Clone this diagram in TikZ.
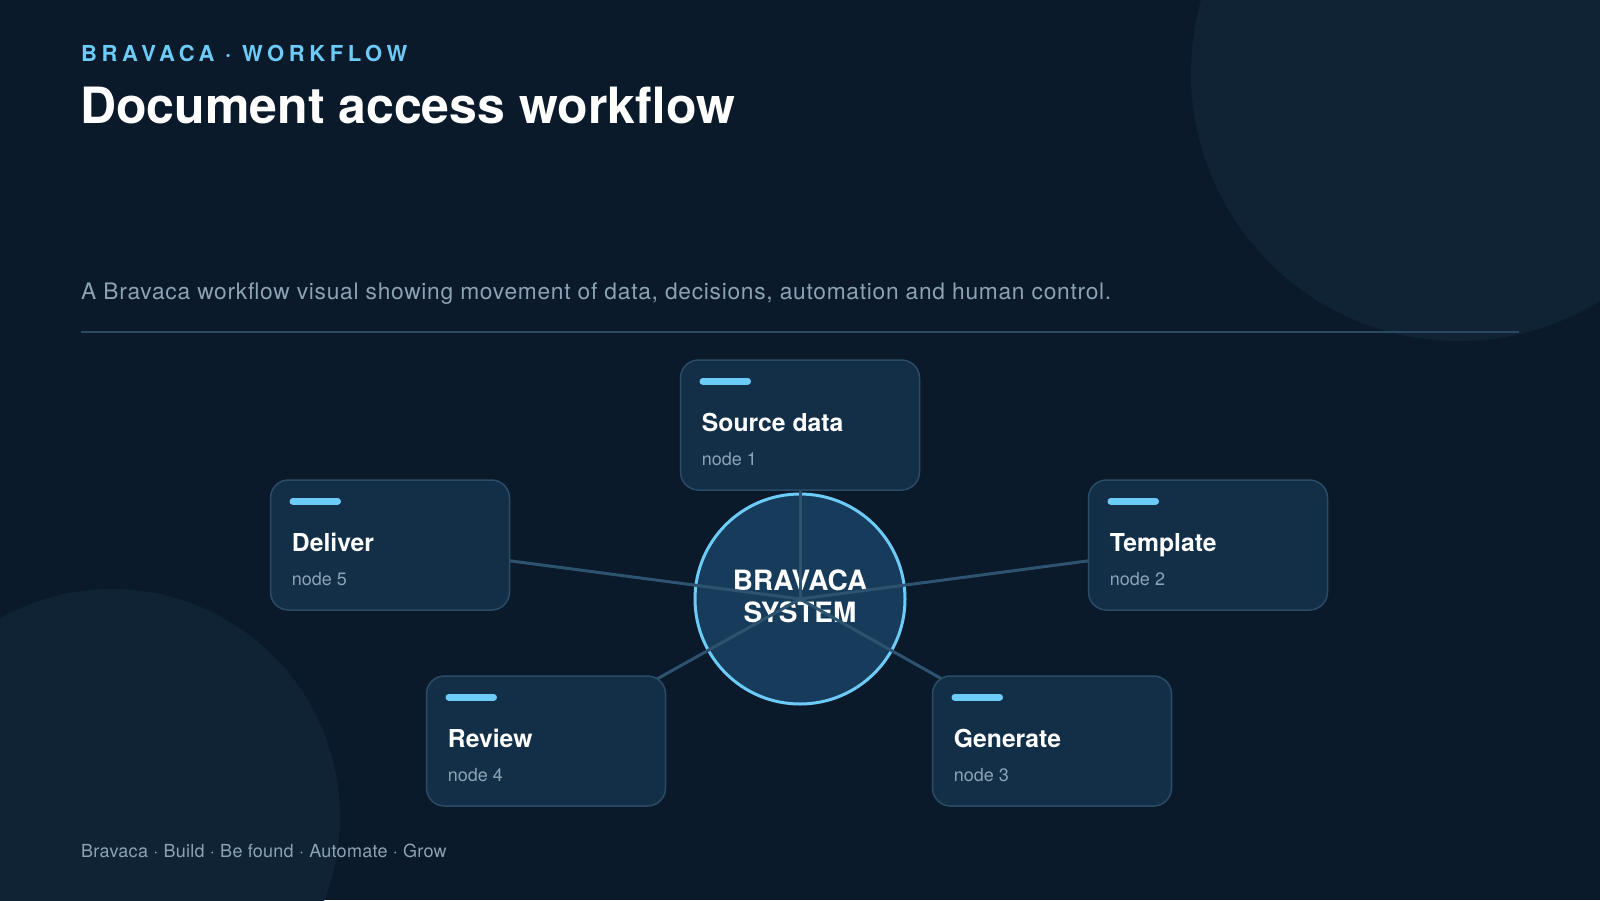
\documentclass[tikz,border=0pt]{standalone}
\usepackage{fontspec}
\setmainfont{TeX Gyre Heros}
\newfontfamily\eyefont[LetterSpace=21]{TeX Gyre Heros}
\newfontfamily\subfont[LetterSpace=3.2]{TeX Gyre Heros}
\newfontfamily\footfont[LetterSpace=1.5]{TeX Gyre Heros}
\definecolor{bgc}{HTML}{0A1A2A}
\definecolor{decoc}{HTML}{0F2334}
\definecolor{accentc}{HTML}{6CCBF7}
\definecolor{boxfill}{HTML}{132F48}
\definecolor{boxline}{HTML}{2B4C66}
\definecolor{hubfill}{HTML}{173B5A}
\definecolor{edgec}{HTML}{2E5370}
\definecolor{mutedc}{HTML}{8CA3B6}
\definecolor{divc}{HTML}{2A4A62}
\pgfdeclarelayer{front}
\pgfsetlayers{main,front}
\tikzset{
  wbox/.style={draw=boxline, line width=1.5pt, fill=boxfill, rounded corners=18pt,
    minimum width=239pt, minimum height=130pt, inner sep=0pt},
  bar/.style={line width=6.5pt, line cap=round, draw=accentc},
  btitle/.style={anchor=base west, inner sep=0pt, text=white, font=\fontsize{24.7}{28}\selectfont\bfseries},
  bsub/.style={anchor=base west, inner sep=0pt, text=mutedc, font=\fontsize{18}{21}\selectfont},
  edge/.style={draw=edgec, line width=3pt},
}
\begin{document}
\begin{tikzpicture}[x=1pt,y=-1pt]
\useasboundingbox (0,0) rectangle (1600,900);
\fill[bgc] (0,0) rectangle (1600,900);
\begin{scope}
\clip (0,0) rectangle (1600,900);
\fill[decoc] (1459,73) circle (268);
\fill[decoc] (112,817) circle (228);
\end{scope}
% header
\node[anchor=base west, inner sep=0pt, text=accentc, font=\eyefont\fontsize{22}{26}\selectfont\bfseries] (eyebrow) at (81,61.5) {BRAVACA · WORKFLOW};
\node[anchor=base west, inner sep=0pt, text=white, font=\fontsize{50}{58}\selectfont\bfseries] (title) at (80,123.5) {Document access workflow};
\node[anchor=base west, inner sep=0pt, text=mutedc, font=\subfont\fontsize{22.75}{26}\selectfont] (subtitle) at (81,299) {A Bravaca workflow visual showing movement of data, decisions, automation and human control.};
\coordinate (divL) at (81,332);
\coordinate (divR) at (1519,332);
\draw[divc, line width=2pt] (divL) -- (divR);
\node[anchor=base west, inner sep=0pt, text=mutedc, font=\footfont\fontsize{18}{21}\selectfont] (footer) at (81,857) {Bravaca · Build · Be found · Automate · Grow};
% hub
\node[circle, draw=accentc, line width=3pt, fill=hubfill, minimum size=210pt, inner sep=0pt] (hub) at (800,599) {};
\node[align=center, inner sep=0pt, text=white, font=\fontsize{28}{32}\selectfont\bfseries] (hubt) at (800,596) {BRAVACA\\SYSTEM};
% boxes
\begin{pgfonlayer}{front}
\foreach \n/\x/\y/\t in {n1/800/425/Source data, n2/1208/545/Template, n3/1052/741/Generate, n4/546/741/Review, n5/390/545/Deliver}{
  \node[wbox] (\n) at (\x,\y) {};
  \draw[bar] ([xshift=23pt,yshift=-22pt]\n.north west) -- ([xshift=68pt,yshift=-22pt]\n.north west);
  \node[btitle] (\n t) at ([xshift=22pt,yshift=-72pt]\n.north west) {\t};
}
\node[bsub] (n1s) at ([xshift=22pt,yshift=-106pt]n1.north west) {node 1};
\node[bsub] (n2s) at ([xshift=22pt,yshift=-106pt]n2.north west) {node 2};
\node[bsub] (n3s) at ([xshift=22pt,yshift=-106pt]n3.north west) {node 3};
\node[bsub] (n4s) at ([xshift=22pt,yshift=-106pt]n4.north west) {node 4};
\node[bsub] (n5s) at ([xshift=22pt,yshift=-106pt]n5.north west) {node 5};
\end{pgfonlayer}
% edges
\foreach \n in {n1,n2,n3,n4,n5}{ \draw[edge] (hub.center) -- (\n.center); }
\end{tikzpicture}
\end{document}
